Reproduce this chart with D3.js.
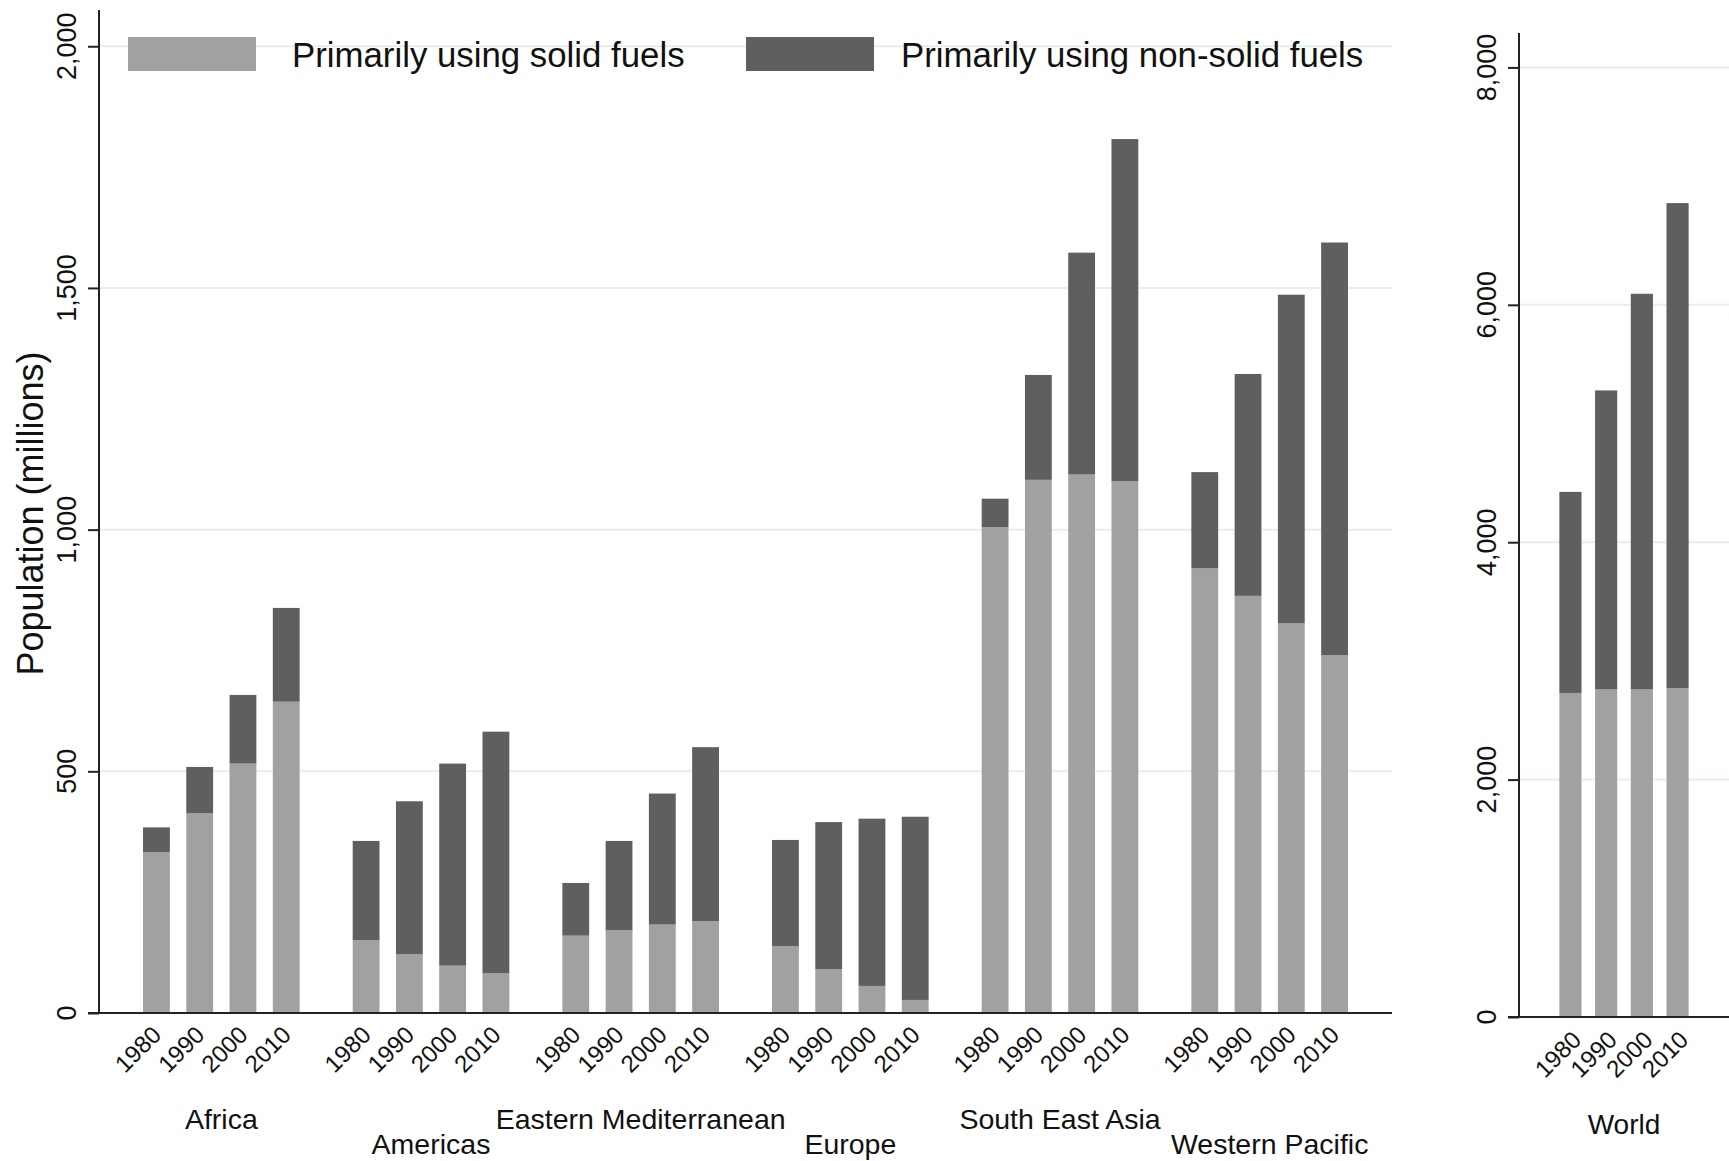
<!DOCTYPE html>
<html><head><meta charset="utf-8">
<script src="https://cdn.jsdelivr.net/npm/d3@7"></script>
<style>body{margin:0;background:#fff}svg{display:block;font-family:"Liberation Sans",Arial,sans-serif}</style>
</head><body>
<svg id="c" width="1729" height="1161"></svg>
<script>
const regions = ["Africa","Americas","Eastern Mediterranean","Europe","South East Asia","Western Pacific"];
const years = ["1980","1990","2000","2010"];
// population (millions) primarily using solid fuels, per region, per year
const solid = [
  [333, 413, 516, 644],
  [151, 122, 98, 82],
  [160, 171, 183, 190],
  [138, 91, 56, 27],
  [1005, 1103, 1114, 1100],
  [920, 863, 806, 740]
];
// population (millions) primarily using non-solid fuels
const nonSolid = [
  [51, 96, 142, 194],
  [205, 316, 418, 500],
  [109, 185, 271, 360],
  [220, 304, 346, 379],
  [59, 217, 459, 708],
  [199, 459, 680, 854]
];
const worldSolid = [2730, 2760, 2760, 2770];
const worldNonSolid = [1694, 2519, 3333, 4087];
const leftTicks = [0, 500, 1000, 1500, 2000];
const rightTicks = [0, 2000, 4000, 6000, 8000];
const seriesNames = ["Primarily using solid fuels","Primarily using non-solid fuels"];

const colSolid = "#a1a1a1", colNon = "#5f5f5f", colGrid = "#e6eef0";
const svg = d3.select("#c");
const fmt = d3.format(",");

// ---------- left panel ----------
const L = {x0: 99, x1: 1392, y0: 1013, yTop: 10};
const yL = d3.scaleLinear().domain([0, 2075]).range([L.y0, L.yTop]);
const xG = d3.scaleBand().domain(regions).range([L.x0, L.x1]).paddingInner(0.253).paddingOuter(0.21);
const xY = d3.scaleBand().domain(years).range([0, xG.bandwidth()]).paddingInner(0.38).paddingOuter(0);

// gridlines
svg.append("g").selectAll("line").data(leftTicks.filter(d=>d>0)).join("line")
  .attr("x1", L.x0).attr("x2", L.x1).attr("y1", d=>yL(d)).attr("y2", d=>yL(d))
  .attr("stroke", colGrid).attr("stroke-width", 2);

regions.forEach((r, i) => {
  const g = svg.append("g").attr("transform", `translate(${xG(r)},0)`);
  years.forEach((yr, j) => {
    const s = solid[i][j], n = nonSolid[i][j];
    g.append("rect").attr("x", xY(yr)).attr("width", xY.bandwidth())
      .attr("y", yL(s)).attr("height", yL(0) - yL(s)).attr("fill", colSolid);
    g.append("rect").attr("x", xY(yr)).attr("width", xY.bandwidth())
      .attr("y", yL(s + n)).attr("height", yL(s) - yL(s + n)).attr("fill", colNon);
    g.append("text").attr("transform", `translate(${xY(yr) + xY.bandwidth()/2 - 6},${L.y0 + 11}) rotate(-45)`)
      .attr("text-anchor", "end").attr("dy", "0.72em").attr("font-size", 24).attr("fill", "#111").text(yr);
  });
  svg.append("text").attr("x", xG(r) + xG.bandwidth()/2).attr("y", i % 2 === 0 ? 1129 : 1154)
    .attr("text-anchor", "middle").attr("font-size", 28.5).attr("fill", "#111").text(r);
});

// axes left
const axL = d3.axisLeft(yL).tickValues(leftTicks).tickSize(11).tickFormat("");
const gL = svg.append("g").attr("transform", `translate(${L.x0},0)`).call(axL);
gL.select(".domain").attr("stroke", "#222").attr("stroke-width", 2).attr("d", `M0,${L.yTop}V${L.y0}`);
gL.selectAll(".tick line").attr("stroke", "#222").attr("stroke-width", 2);
svg.append("g").selectAll("text").data(leftTicks).join("text")
  .attr("transform", d => `translate(76,${yL(d)}) rotate(-90)`)
  .attr("text-anchor", "middle").attr("font-size", 27).attr("fill", "#111").text(d => fmt(d));
svg.append("line").attr("x1", L.x0 - 11).attr("x2", L.x1).attr("y1", L.y0).attr("y2", L.y0)
  .attr("stroke", "#222").attr("stroke-width", 2);

svg.append("text").attr("transform", `translate(43,${(L.y0 + L.yTop)/2 + 2}) rotate(-90)`)
  .attr("text-anchor", "middle").attr("font-size", 36).attr("fill", "#111").text("Population (millions)");

// legend
const legX = [128, 746], legTextX = [292, 901];
seriesNames.forEach((nm, k) => {
  svg.append("rect").attr("x", legX[k]).attr("y", 37).attr("width", 128).attr("height", 34)
    .attr("fill", k === 0 ? colSolid : colNon);
  svg.append("text").attr("x", legTextX[k]).attr("y", 67).attr("font-size", 34.8).attr("fill", "#111").text(nm);
});

// ---------- right panel ----------
const R = {x0: 1519, x1: 1729, y0: 1017, yTop: 33};
const yR = d3.scaleLinear().domain([0, 8290]).range([R.y0, R.yTop]);
const xR = d3.scaleBand().domain(years).range([R.x0, R.x1]).paddingInner(0.38).paddingOuter(1.13);

svg.append("g").selectAll("line").data(rightTicks.filter(d=>d>0)).join("line")
  .attr("x1", R.x0).attr("x2", R.x1).attr("y1", d=>yR(d)).attr("y2", d=>yR(d))
  .attr("stroke", colGrid).attr("stroke-width", 2);

years.forEach((yr, j) => {
  const s = worldSolid[j], n = worldNonSolid[j];
  svg.append("rect").attr("x", xR(yr)).attr("width", xR.bandwidth())
    .attr("y", yR(s)).attr("height", yR(0) - yR(s)).attr("fill", colSolid);
  svg.append("rect").attr("x", xR(yr)).attr("width", xR.bandwidth())
    .attr("y", yR(s + n)).attr("height", yR(s) - yR(s + n)).attr("fill", colNon);
  svg.append("text").attr("transform", `translate(${xR(yr) + xR.bandwidth()/2},${R.y0 + 12}) rotate(-45)`)
    .attr("text-anchor", "end").attr("dy", "0.72em").attr("font-size", 24).attr("fill", "#111").text(yr);
});

const axR = d3.axisLeft(yR).tickValues(rightTicks).tickSize(11).tickFormat("");
const gR = svg.append("g").attr("transform", `translate(${R.x0},0)`).call(axR);
gR.select(".domain").attr("stroke", "#222").attr("stroke-width", 2).attr("d", `M0,${R.yTop}V${R.y0}`);
gR.selectAll(".tick line").attr("stroke", "#222").attr("stroke-width", 2);
svg.append("g").selectAll("text").data(rightTicks).join("text")
  .attr("transform", d => `translate(1496,${yR(d)}) rotate(-90)`)
  .attr("text-anchor", "middle").attr("font-size", 27).attr("fill", "#111").text(d => fmt(d));
svg.append("line").attr("x1", R.x0 - 11).attr("x2", R.x1).attr("y1", R.y0).attr("y2", R.y0)
  .attr("stroke", "#222").attr("stroke-width", 2);

svg.append("text").attr("x", (xR("1980") + xR("2010") + xR.bandwidth())/2).attr("y", 1134)
  .attr("text-anchor", "middle").attr("font-size", 28).attr("fill", "#111").text("World");
</script>
</body></html>
